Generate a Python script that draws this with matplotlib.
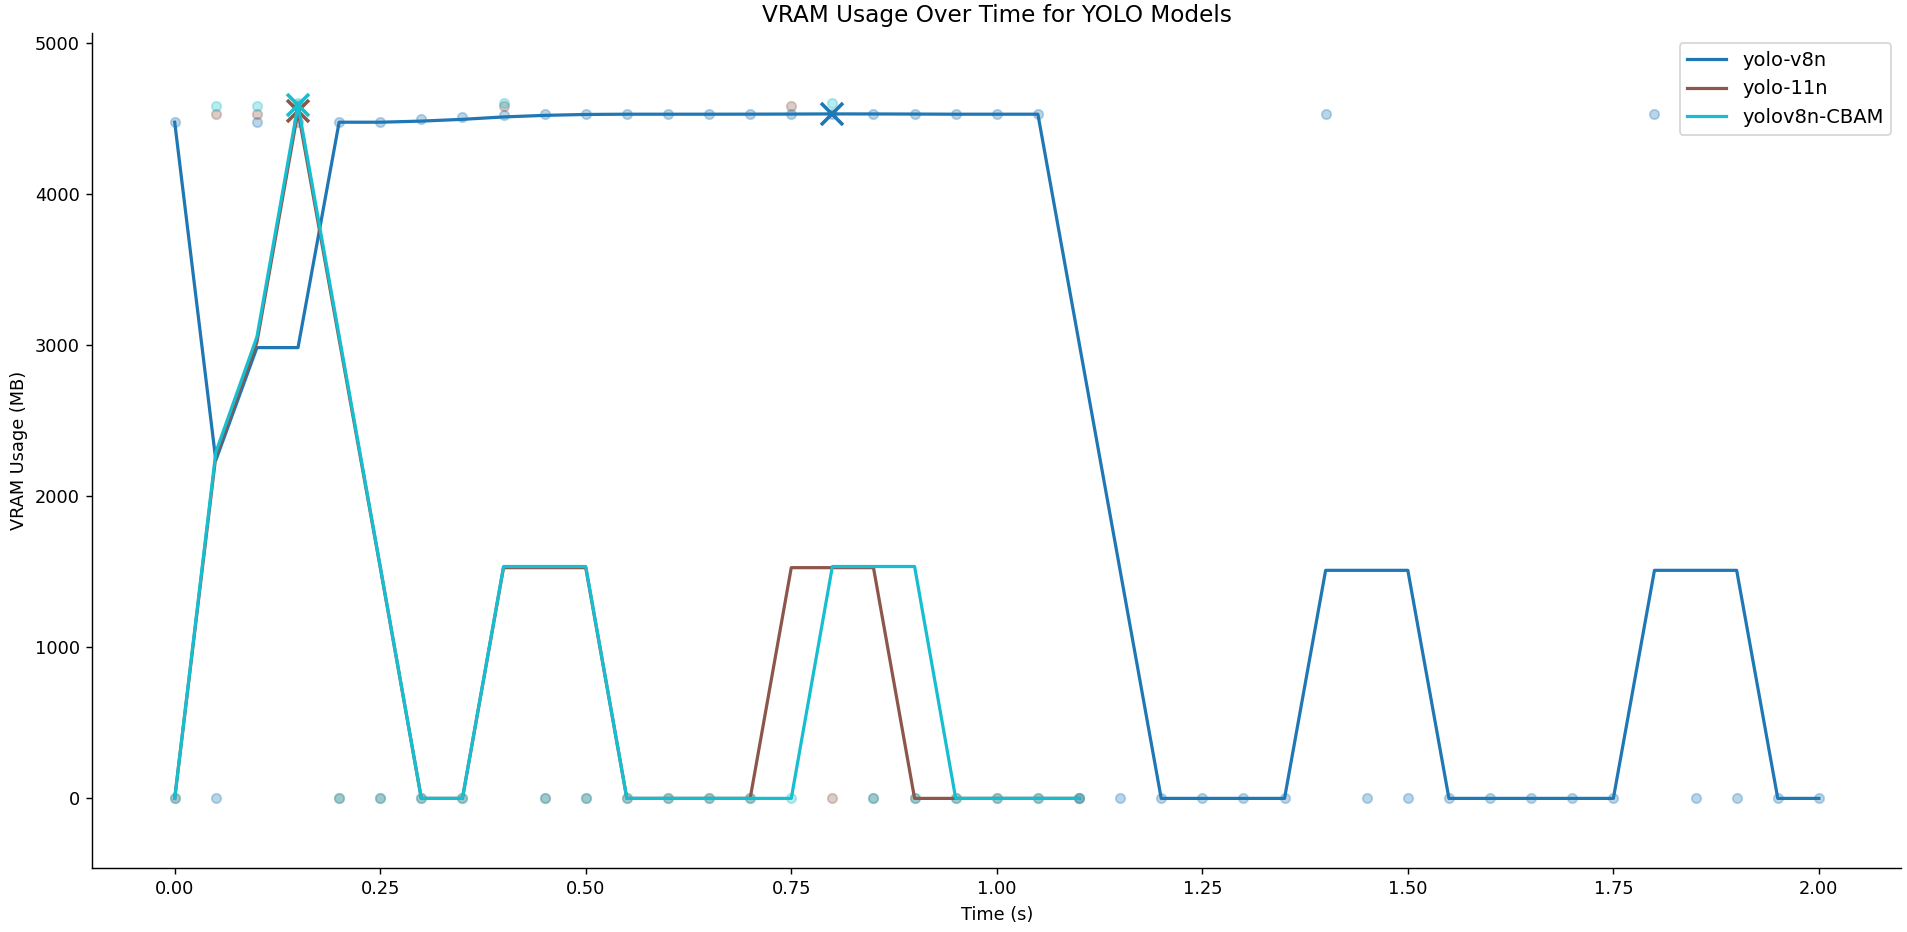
import matplotlib
matplotlib.use('agg')
import matplotlib.pyplot as plt
import pandas as pd

# tiempo de muestreo (s)
tiempos = [0.00, 0.05, 0.10, 0.15, 0.20, 0.25, 0.30, 0.35, 0.40, 0.45,
           0.50, 0.55, 0.60, 0.65, 0.70, 0.75, 0.80, 0.85, 0.90, 0.95,
           1.00, 1.05, 1.10, 1.15, 1.20, 1.25, 1.30, 1.35, 1.40, 1.45,
           1.50, 1.55, 1.60, 1.65, 1.70, 1.75, 1.80, 1.85, 1.90, 1.95, 2.00]

modelos = ['yolo-v8n', 'yolo-11n', 'yolov8n-CBAM']
colores = ['#1f77b4', '#8c564b', '#17becf']

vram_v8n = [4476, 0, 4476, 4476, 4476, 4476, 4498, 4511, 4524, 4529,
            4529, 4529, 4529, 4529, 4530, 4531, 4532, 4529, 4529, 4529,
            4529, 4529, 0, 0, 0, 0, 0, 0, 4529, 0,
            0, 0, 0, 0, 0, 0, 4529, 0, 0, 0, 0]
vram_11n = [0, 4529, 4529, 4590, 0, 0, 0, 0, 4582, 0,
            0, 0, 0, 0, 0, 4582, 0, 0, 0, 0,
            0, 0, 0]
vram_cbam = [0, 4582, 4582, 4606, 0, 0, 0, 0, 4605, 0,
             0, 0, 0, 0, 0, 0, 4605, 0, 0, 0,
             0, 0, 0]

series = [vram_v8n, vram_11n, vram_cbam]

fig = plt.figure(figsize=(1907 / 128, 932 / 128), dpi=128)
ax = fig.add_axes([0.0485, 0.0687, 0.9484, 0.8959])

maximo = 0
for nombre, color, valores in zip(modelos, colores, series):
    t = tiempos[:len(valores)]
    suave = pd.Series(valores).rolling(3, min_periods=1).mean()
    ax.scatter(t, valores, color=color, alpha=0.3, s=28)
    ax.plot(t, suave, color=color, lw=1.8, label=nombre)
    i = int(suave.idxmax())
    ax.plot(t[i], suave[i], marker='x', color=color, markersize=12, mew=2)
    maximo = max(maximo, max(valores))

ax.set_ylim(-0.1 * maximo, 1.1 * maximo)
ax.set_title('VRAM Usage Over Time for YOLO Models', fontsize=13)
ax.set_xlabel('Time (s)')
ax.set_ylabel('VRAM Usage (MB)')
ax.spines['top'].set_visible(False)
ax.spines['right'].set_visible(False)
ax.legend(loc='upper right', fontsize=11)

fig.savefig('out.png', dpi=128)
